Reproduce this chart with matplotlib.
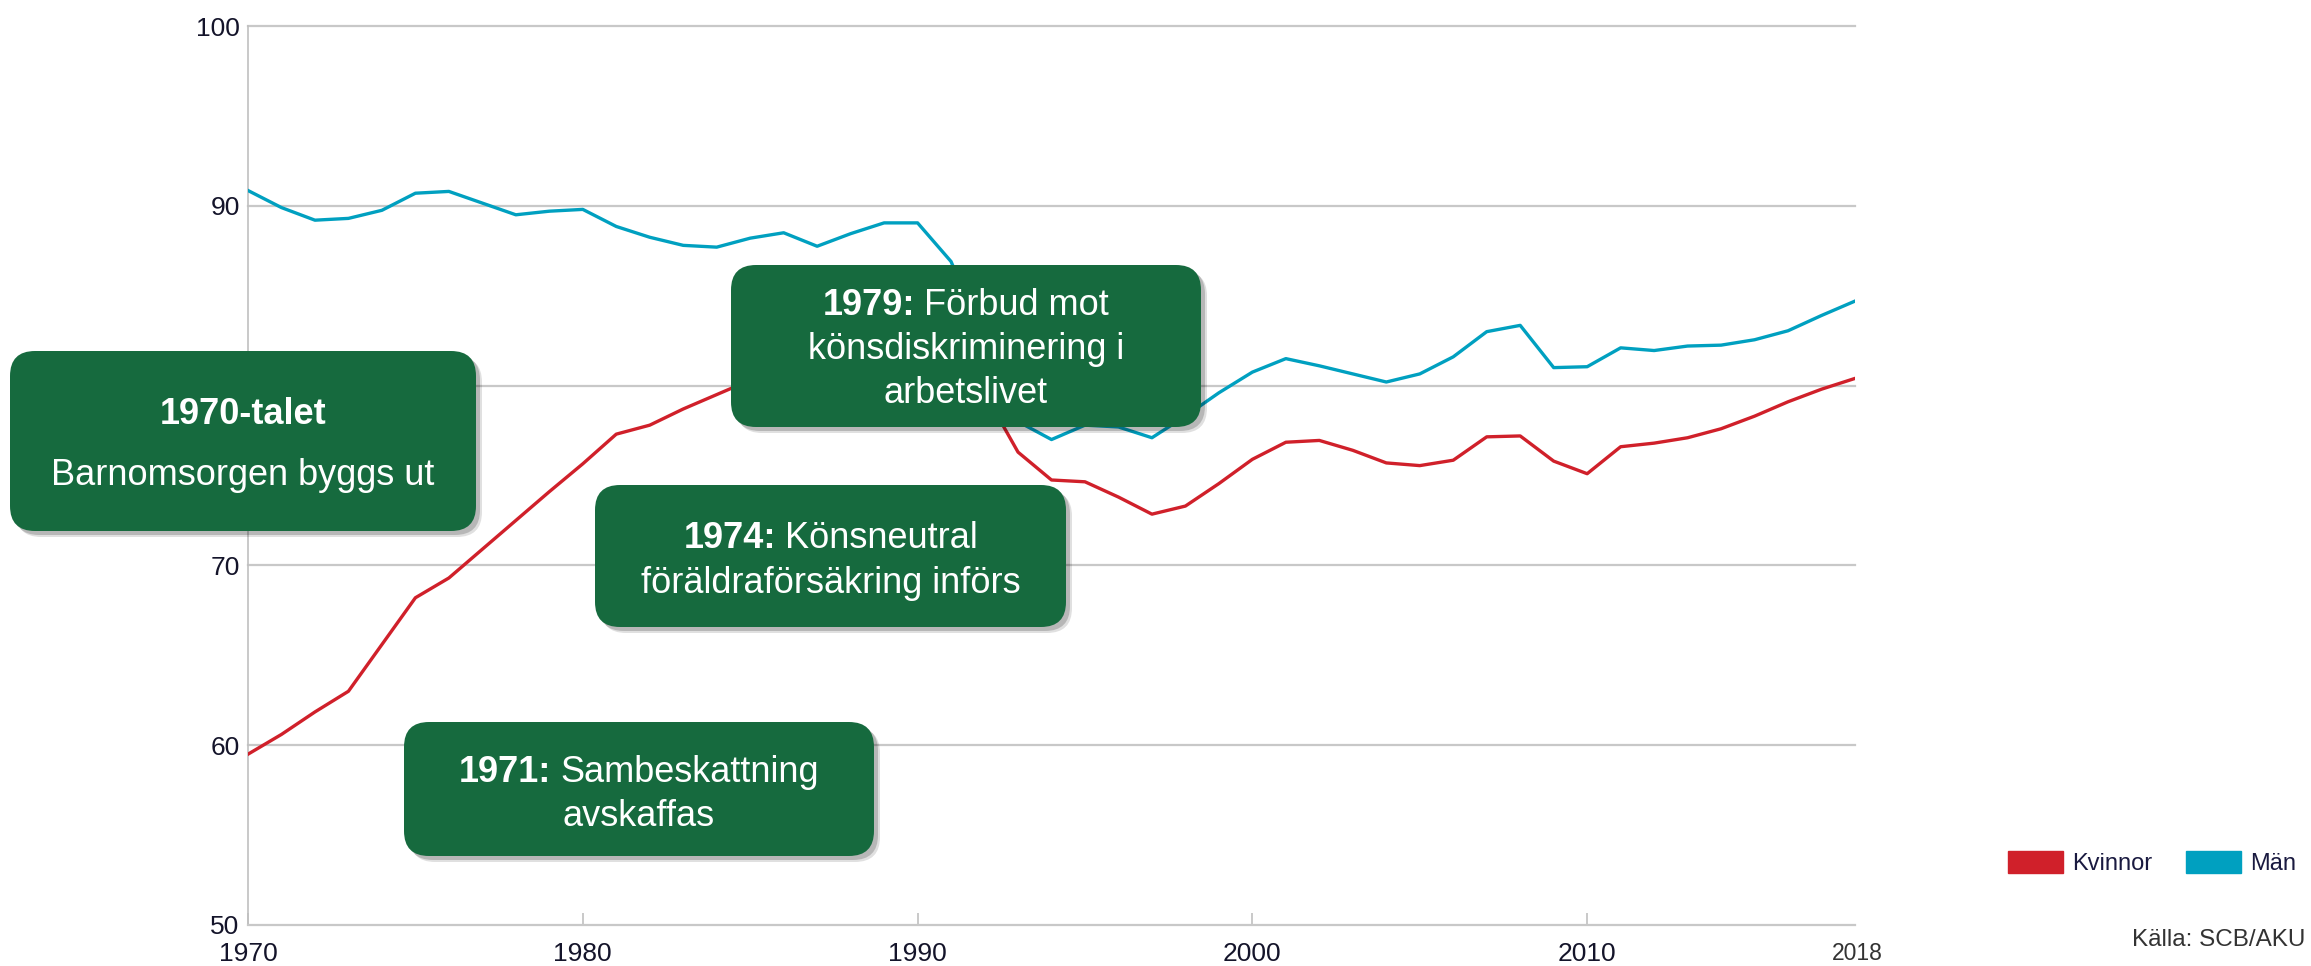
import matplotlib
matplotlib.use('Agg')
import matplotlib.pyplot as plt
from matplotlib.patches import FancyBboxPatch, Patch

plt.rcParams['font.family'] = ['Liberation Sans', 'DejaVu Sans']

# data
years = list(range(1970, 2019))
kvinnor = [59.5, 60.6, 61.85, 63.0, 65.6, 68.2, 69.3, 70.9, 72.5, 74.1,
           75.65, 77.3, 77.8, 78.7, 79.5, 80.3, 81.0, 81.6, 82.2, 82.6,
           82.7, 81.8, 79.6, 76.3, 74.75, 74.65, 73.8, 72.85, 73.3, 74.55,
           75.9, 76.85, 76.95, 76.4, 75.7, 75.55, 75.85, 77.15, 77.2, 75.8,
           75.1, 76.6, 76.8, 77.1, 77.6, 78.3, 79.1, 79.8, 80.4]
man = [90.85, 89.9, 89.2, 89.3, 89.75, 90.7, 90.8, 90.15, 89.5, 89.7,
       89.8, 88.85, 88.25, 87.8, 87.7, 88.2, 88.5, 87.75, 88.45, 89.05,
       89.05, 86.9, 82.5, 78.0, 77.0, 77.8, 77.7, 77.1, 78.3, 79.6,
       80.75, 81.5, 81.1, 80.65, 80.2, 80.65, 81.6, 83.0, 83.35, 81.0,
       81.05, 82.1, 81.95, 82.2, 82.25, 82.55, 83.05, 83.9, 84.7]
xticks = [1970, 1980, 1990, 2000, 2010]
yticks = [50, 60, 70, 80, 90, 100]
serier = ['Kvinnor', 'Män']
farger = ['#d0202a', '#00a0c0']

# händelser: rader med (fet, vanlig)
handelser = [
    [('1970-talet', ''), ('', 'Barnomsorgen byggs ut')],
    [('1979:', 'Förbud mot'), ('', 'könsdiskriminering i'), ('', 'arbetslivet')],
    [('1974:', 'Könsneutral'), ('', 'föräldraförsäkring införs')],
    [('1971:', 'Sambeskattning'), ('', 'avskaffas')],
]
# lådor i pixlar: x0, y0, x1, y1, baslinjer
ladgeo = [
    (10, 351, 476, 531, [424, 485]),
    (731, 265, 1201, 427, [315, 359, 403]),
    (595, 485, 1066, 627, [548, 593]),
    (404, 722, 874, 856, [782, 826]),
]

W, H = 2311, 966
fig = plt.figure(figsize=(W / 100, H / 100), dpi=100)
ax = fig.add_axes([248 / W, 1 - 925 / H, (1855 - 248) / W, (925 - 26) / H])

ax.plot(years, man, color=farger[1], lw=2.4, zorder=3)
ax.plot(years, kvinnor, color=farger[0], lw=2.4, zorder=3)

ax.set_xlim(1970, 2018)
ax.set_ylim(50, 100)

for y in yticks[1:]:
    ax.axhline(y, color='#c8c8c8', lw=1.6, zorder=1, clip_on=False)

for s in ['top', 'right']:
    ax.spines[s].set_visible(False)
ax.spines['bottom'].set_color('#c8c8c8')
ax.spines['bottom'].set_linewidth(1.6)
ax.spines['left'].set_color('#c0c0c0')
ax.spines['left'].set_linewidth(1.2)

ax.set_xticks(xticks)
ax.set_yticks(yticks)
ax.tick_params(axis='x', direction='in', length=9, width=1.2, color='#c0c0c0',
               pad=12, labelsize=19, labelcolor='#14142a')
ax.tick_params(axis='y', length=0, pad=6, labelsize=19, labelcolor='#14142a')
for lab in ax.get_xticklabels() + ax.get_yticklabels():
    lab.set_family(['Liberation Sans Narrow', 'Liberation Sans', 'DejaVu Sans'])

fig.text(1857 / W, 1 - 954 / H, '2018', ha='center', va='center',
         fontsize=16.5, color='#333333')

# gröna lådor
gron = '#166a3e'
r = fig.canvas.get_renderer()
for (x0, y0, x1, y1, baser), rader in zip(ladgeo, handelser):
    for dx, dy, a in [(6, 6, 0.12), (4, 4, 0.18)]:
        sk = FancyBboxPatch(((x0 + dx) / 100, (H - y1 - dy) / 100), (x1 - x0) / 100, (y1 - y0) / 100,
                            boxstyle='round,pad=0,rounding_size=0.25',
                            transform=fig.dpi_scale_trans, fc='black', ec='none',
                            alpha=a, zorder=4)
        fig.add_artist(sk)
    p = FancyBboxPatch((x0 / 100, (H - y1) / 100), (x1 - x0) / 100, (y1 - y0) / 100,
                       boxstyle='round,pad=0,rounding_size=0.25',
                       transform=fig.dpi_scale_trans, fc=gron, ec='none', zorder=5)
    fig.add_artist(p)
    cx = (x0 + x1) / 2
    for (fet, vanlig), bas in zip(rader, baser):
        yy = 1 - bas / H
        delar = []
        if fet:
            delar.append(fig.text(0, yy, fet, fontsize=26, weight='bold', color='white',
                                  ha='left', va='baseline', zorder=6))
        if vanlig:
            delar.append(fig.text(0, yy, vanlig, fontsize=26, color='white',
                                  ha='left', va='baseline', zorder=6))
        bredd = [t.get_window_extent(r).width for t in delar]
        gap = 9 if len(delar) == 2 else 0
        start = cx - (sum(bredd) + gap) / 2
        for t, b in zip(delar, bredd):
            t.set_x(start / W)
            start += b + gap

# legend
handles = [Patch(fc=c, ec=c, label=l) for c, l in zip(farger, serier)]
fig.legend(handles=handles, loc='center left', bbox_to_anchor=(2008 / W, 1 - 863 / H),
           ncol=2, frameon=False, fontsize=17, handlelength=2.35, handleheight=1.05,
           handletextpad=0.38, columnspacing=1.4, borderpad=0, borderaxespad=0,
           labelcolor='#1a1a40')

fig.text(2305 / W, 1 - 940 / H, 'Källa: SCB/AKU', ha='right', va='center',
         fontsize=17.5, color='#333333')

fig.savefig('out.png', dpi=100)
